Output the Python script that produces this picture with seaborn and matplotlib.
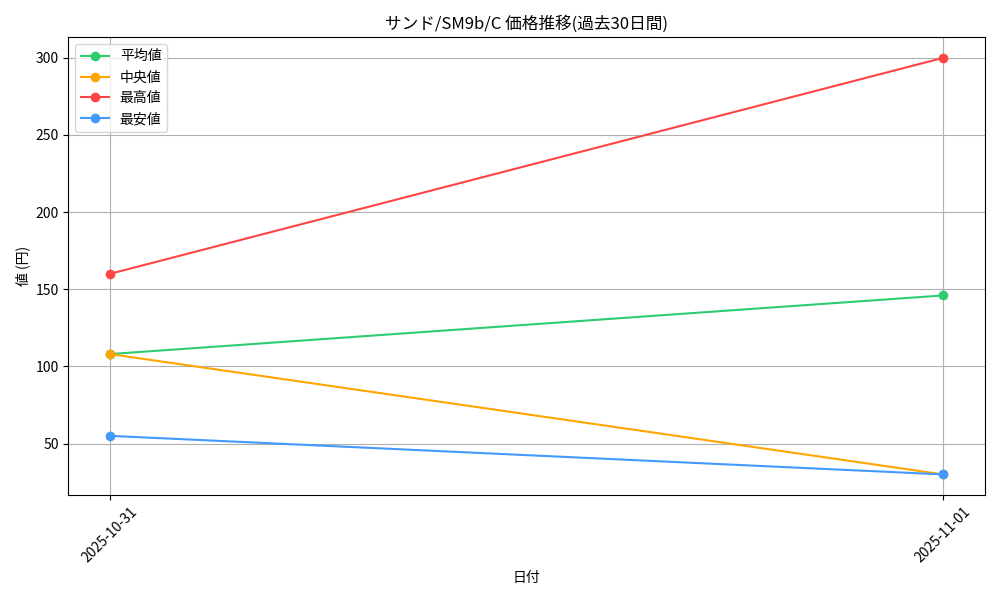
import pandas as pd
import matplotlib.pyplot as plt
import seaborn as sns

plt.rcParams['font.family'] = ['Noto Sans CJK JP', 'DejaVu Sans']

# データ
dates = ["2025-10-31", "2025-11-01"]
avg_price = [108, 146]
median_price = [108, 30]
max_price = [160, 300]
min_price = [55, 30]

series = {
    "平均値": (avg_price, "#2ecc71"),
    "中央値": (median_price, "#ffa500"),
    "最高値": (max_price, "#ff4444"),
    "最安値": (min_price, "#4499ff"),
}

fig, ax = plt.subplots(figsize=(10, 6))
for label, (values, color) in series.items():
    df = pd.DataFrame({"日付": dates, "値": values})
    sns.lineplot(data=df, x="日付", y="値", marker="o", markersize=7,
                 markeredgewidth=0, color=color, label=label, ax=ax)

ax.set_title("サンド/SM9b/C 価格推移(過去30日間)")
ax.set_xlabel("日付")
ax.set_ylabel("値 (円)")
ax.grid(True)
ax.legend(loc="upper left")
plt.xticks(rotation=45)
plt.tight_layout()
plt.savefig("out.png", dpi=100)
